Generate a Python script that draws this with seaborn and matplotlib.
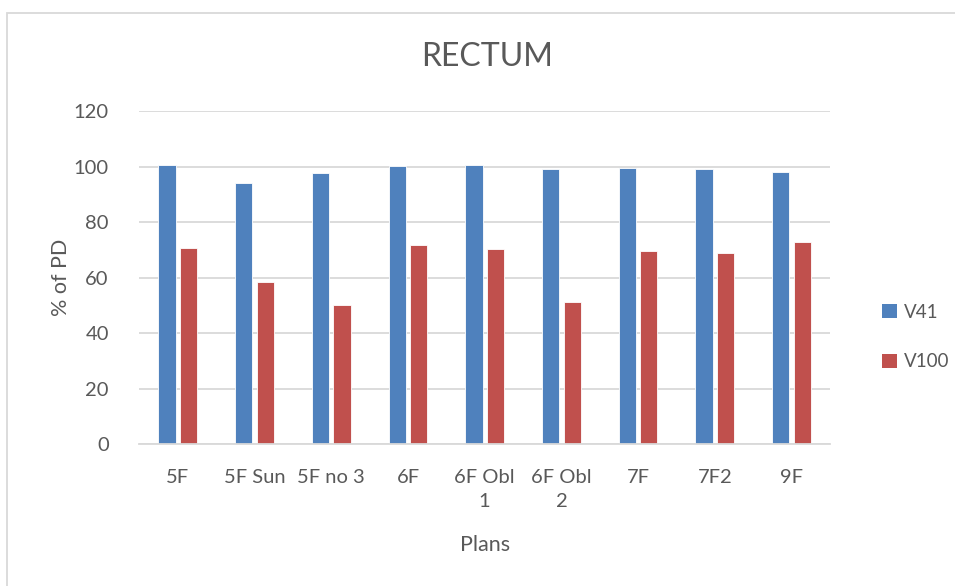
import matplotlib
matplotlib.use("Agg")
import matplotlib.pyplot as plt
from matplotlib.patches import Rectangle, Patch
import pandas as pd
import seaborn as sns

plans = ["5F", "5F Sun", "5F no 3", "6F", "6F Obl\n1", "6F Obl\n2", "7F", "7F2", "9F"]
v41 = [100.5, 94.2, 97.8, 100.2, 100.5, 99.0, 99.4, 99.1, 98.2]
v100 = [70.5, 58.5, 50.1, 71.9, 70.3, 51.2, 69.5, 68.7, 72.8]
series = ["V41", "V100"]
colors = ["#4F81BD", "#C0504D"]
yticks = [0, 20, 40, 60, 80, 100, 120]

df = pd.DataFrame({
    "Plans": plans * 2,
    "value": v41 + v100,
    "series": [series[0]] * len(plans) + [series[1]] * len(plans),
})

sns.set_theme(style="white")
plt.rcParams["font.family"] = ["Lato", "DejaVu Sans"]
text_color = "#595959"

fig = plt.figure(figsize=(9.55, 5.86), dpi=100)
ax = fig.add_axes([0.146, 0.2418, 0.723, 0.5688])

sns.barplot(data=df, x="Plans", y="value", hue="series", hue_order=series,
            palette=colors, width=0.56, gap=0.2, ax=ax, legend=False,
            edgecolor="white", linewidth=0.6, saturation=1)

ax.set_ylim(0, 120)
ax.set_yticks(yticks)
ax.set_xlim(-0.5, len(plans) - 0.5)
ax.yaxis.grid(True, color="#D9D9D9", linewidth=1.3)
ax.set_axisbelow(True)
for side in ["left", "right", "top"]:
    ax.spines[side].set_visible(False)
ax.spines["bottom"].set_color("#D9D9D9")
ax.spines["bottom"].set_linewidth(1.3)
ax.tick_params(axis="both", length=0, labelsize=14.5, colors=text_color)
ax.tick_params(axis="y", pad=22)
ax.tick_params(axis="x", pad=18)
for lbl in ax.get_xticklabels():
    lbl.set_linespacing(1.45)

ax.set_xlabel("Plans", fontsize=15.5, color=text_color, labelpad=18)
ax.set_ylabel("% of PD", fontsize=15.5, color=text_color, labelpad=2)

fig.text(487.5 / 955, 1 - 57 / 586, "RECTUM", ha="center", va="center",
         fontsize=23, color=text_color)

handles = [Patch(facecolor=c, edgecolor="none") for c in colors]
fig.legend(handles, series, loc="center left",
           bbox_to_anchor=(865 / 955, 1 - 337 / 586), frameon=False,
           fontsize=13.5, handlelength=0.8, handleheight=0.8,
           handletextpad=0.4, labelspacing=1.75, labelcolor=text_color)

# chart-area border
fig.patches.append(Rectangle((6.5 / 955, -0.05), 1.2, 1 - 12.5 / 586 + 0.05,
                             transform=fig.transFigure, fill=False,
                             edgecolor="#D9D9D9", linewidth=1.3))

fig.savefig("out.png", dpi=100, facecolor="white")
